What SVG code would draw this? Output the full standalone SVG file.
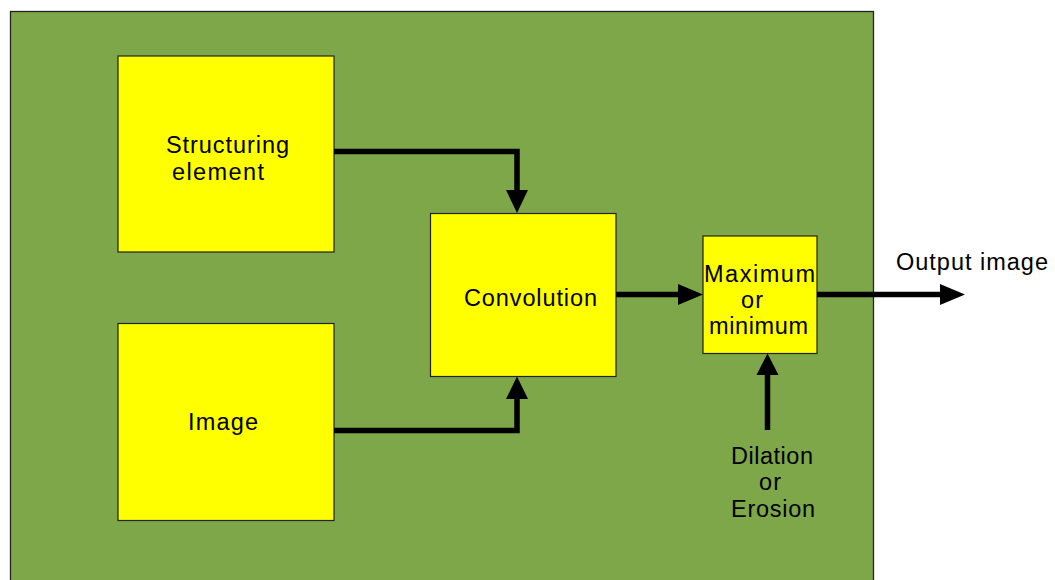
<svg xmlns="http://www.w3.org/2000/svg" width="1055" height="580" viewBox="0 0 1055 580">
<style>
.box{fill:#ffff00;stroke:#222;stroke-width:1.2}
.t{font-family:"Liberation Sans",Arial,sans-serif;font-size:23.5px;fill:#000}
.c{fill:none;stroke:#000;stroke-width:5.5}
.h{fill:#000}
</style>
<rect width="1055" height="580" fill="#fff"/>
<g id="background">
<rect x="10.5" y="11.5" width="863" height="575" fill="#7ea74a" stroke="#222" stroke-width="1.3"/>
</g>
<g id="structuring">
<rect class="box" x="118" y="56" width="216" height="196"/>
<text class="t" x="166" y="153" textLength="123">Structuring</text>
<text class="t" x="172" y="180" textLength="92">element</text>
</g>
<g id="image">
<rect class="box" x="118" y="323.5" width="216" height="197"/>
<text class="t" x="188" y="430" textLength="70">Image</text>
</g>
<g id="convolution">
<rect class="box" x="430.5" y="213.5" width="185.5" height="163"/>
<text class="t" x="464" y="306" textLength="133">Convolution</text>
</g>
<g id="maxmin">
<rect class="box" x="703" y="236" width="114" height="117.5"/>
<text class="t" x="704" y="282" textLength="111">Maximum</text>
<text class="t" x="741" y="308" textLength="22">or</text>
<text class="t" x="709" y="334" textLength="99">minimum</text>
</g>
<g id="output-label">
<text class="t" x="896" y="270" textLength="152">Output image</text>
</g>
<g id="dilation-label">
<text class="t" x="731" y="464" textLength="82">Dilation</text>
<text class="t" x="759" y="490" textLength="22">or</text>
<text class="t" x="731" y="517" textLength="84">Erosion</text>
</g>
<g id="connectors">
<polyline class="c" points="334,151.5 517,151.5 517,193"/>
<polygon class="h" points="506,190 528,190 517,213"/>
<polyline class="c" points="334,430.5 517,430.5 517,396"/>
<polygon class="h" points="506,399 528,399 517,376.5"/>
<line class="c" x1="616" y1="294.5" x2="681" y2="294.5"/>
<polygon class="h" points="678,284 703,294.5 678,305"/>
<line class="c" x1="817" y1="294.5" x2="942" y2="294.5"/>
<polygon class="h" points="940,284 965,294.5 940,305"/>
<line class="c" x1="767.5" y1="430" x2="767.5" y2="372"/>
<polygon class="h" points="756.5,375 778.5,375 767.5,353.5"/>
</g>
</svg>
